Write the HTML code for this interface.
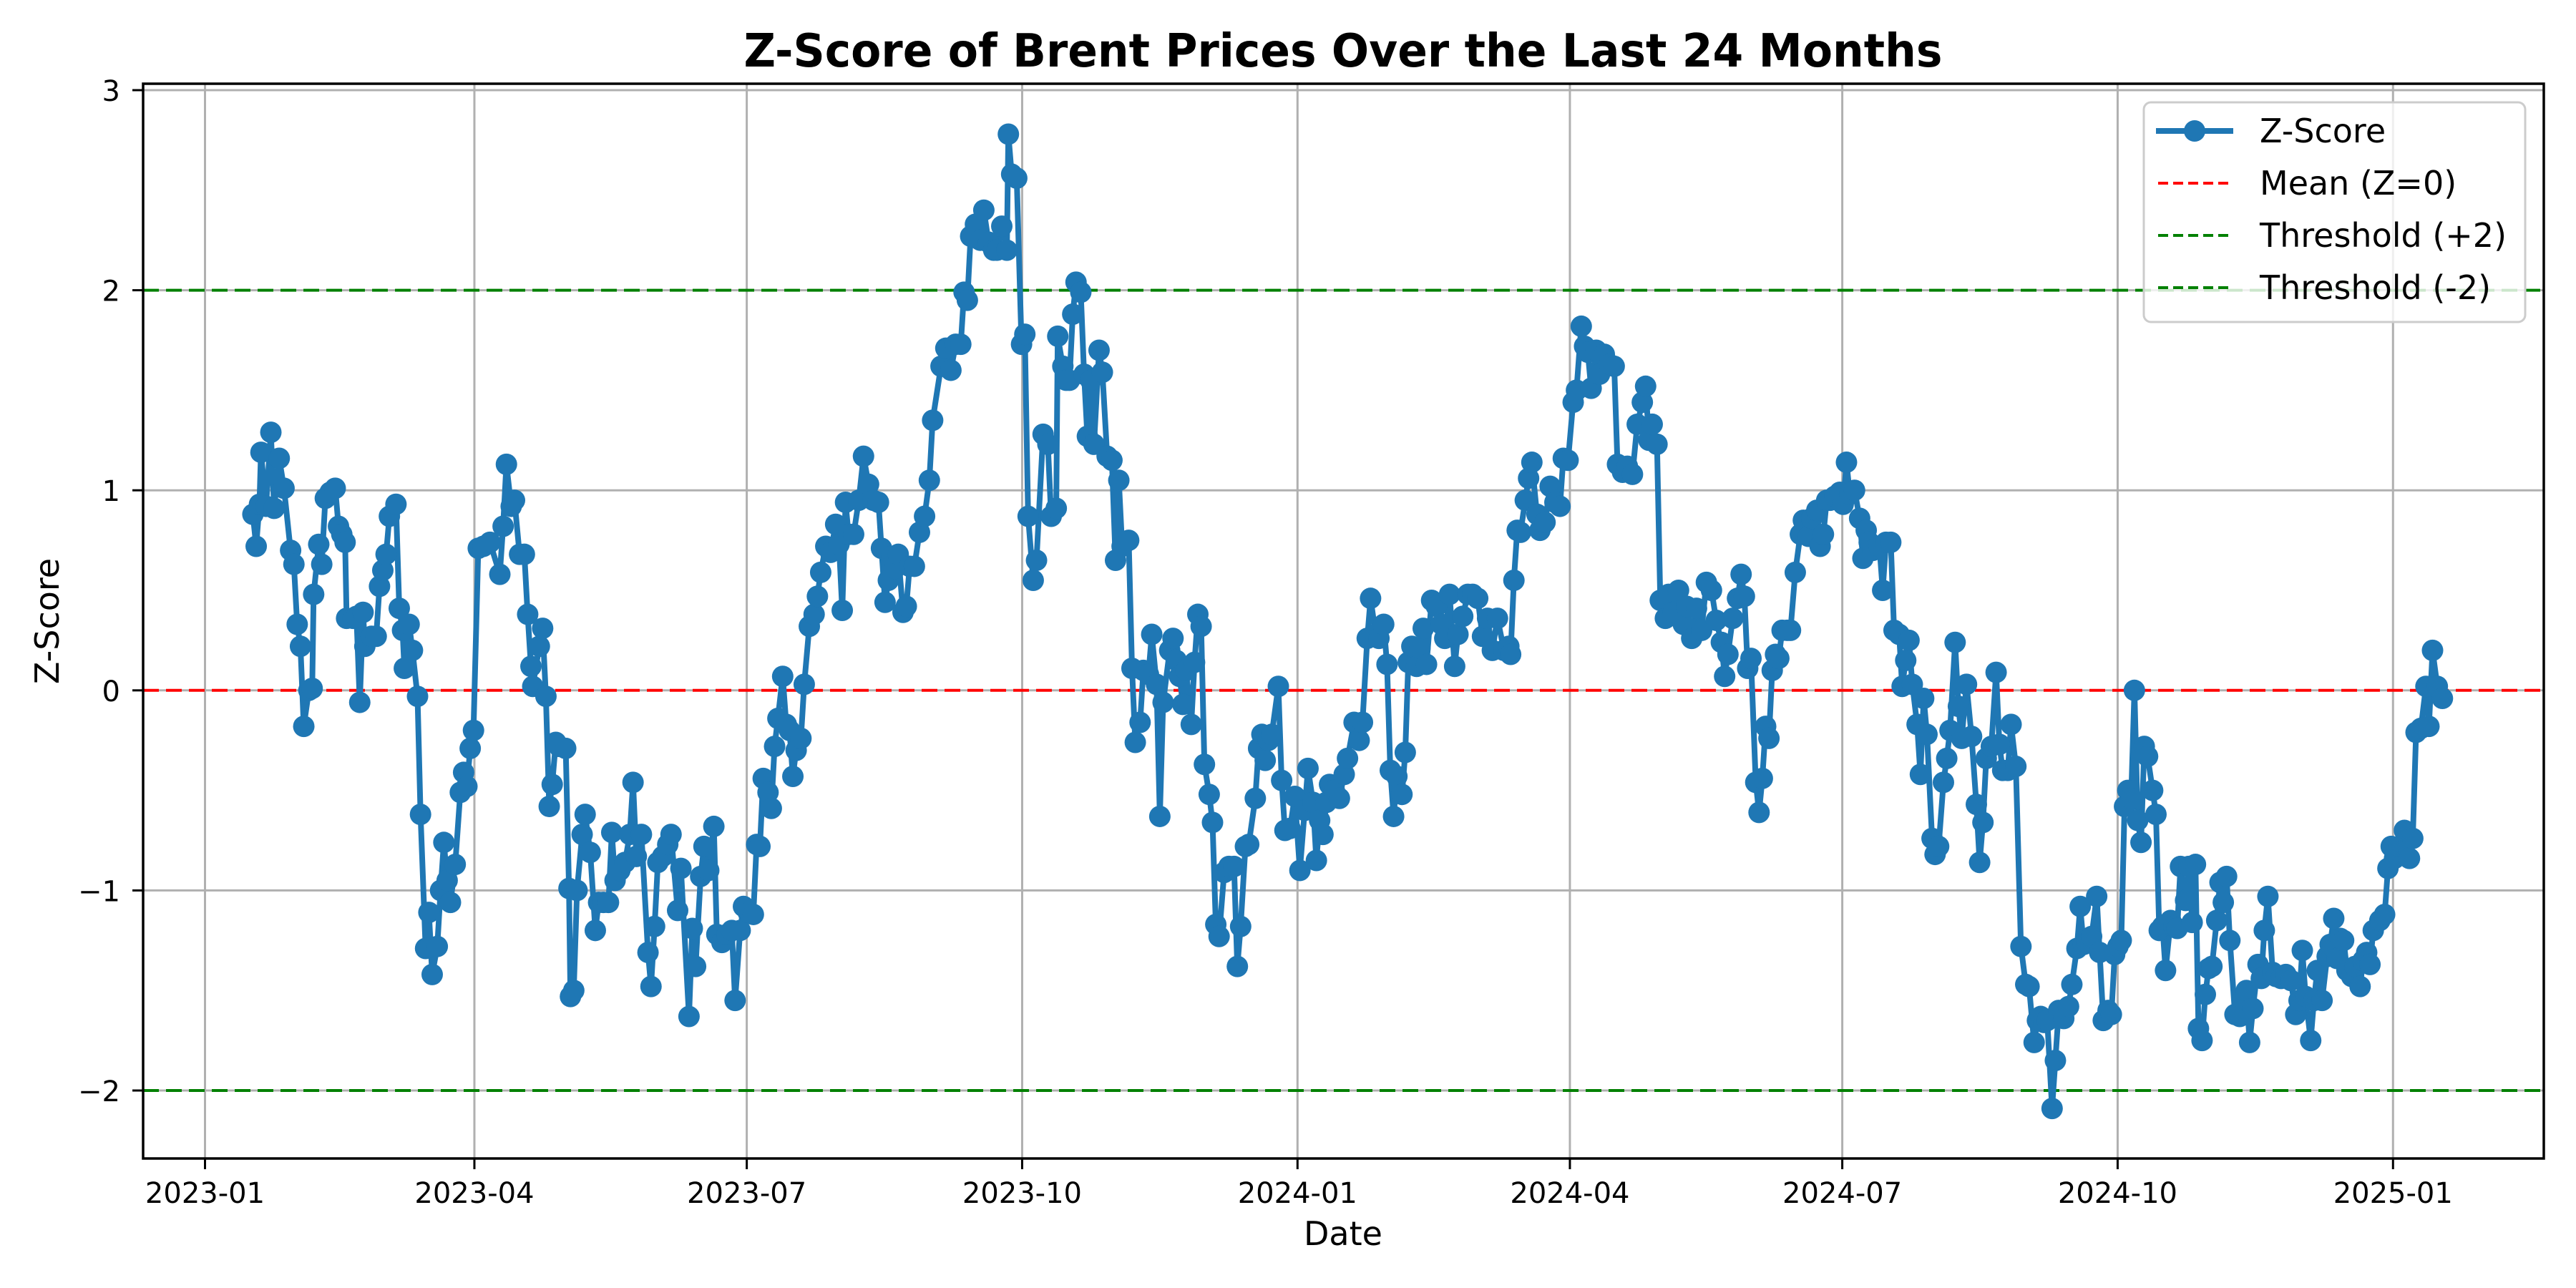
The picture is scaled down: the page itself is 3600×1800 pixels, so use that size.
<!DOCTYPE html>
<html><head><meta charset="utf-8"><style>
html,body{margin:0;padding:0;background:#fff;}
svg{display:block;font-family:"DejaVu Sans","Liberation Sans",sans-serif;}
</style></head><body>
<svg id="chart" width="3600" height="1800" viewBox="0 0 3600 1800" xmlns="http://www.w3.org/2000/svg">
<rect x="0" y="0" width="3600" height="1800" fill="#fff"/>
<g id="grid"></g>
<g id="reflines"></g>
<g id="series"></g>
<rect x="200" y="117" width="3355" height="1502" fill="none" stroke="#000" stroke-width="3.5"/>
<g id="ticks"></g>
<text x="1877" y="93" text-anchor="middle" font-size="64" font-weight="bold" textLength="1675" lengthAdjust="spacingAndGlyphs">Z-Score of Brent Prices Over the Last 24 Months</text>
<text x="1877" y="1740" text-anchor="middle" font-size="46">Date</text>
<text x="0" y="0" transform="translate(82,868) rotate(-90)" text-anchor="middle" font-size="46">Z-Score</text>
<g>
<rect x="2996" y="143" width="533" height="307" rx="10" fill="#fff" fill-opacity="0.8" stroke="#cccccc" stroke-width="3"/>
<g>
<line x1="3013" y1="183" x2="3121" y2="183" stroke="#1f77b4" stroke-width="8"/>
<ellipse cx="3067" cy="183" rx="15" ry="15" fill="#1f77b4"/>
<text x="3158" y="199" font-size="46">Z-Score</text></g>
<g>
<line x1="3016" y1="256" x2="3118" y2="256" stroke="#ff0000" stroke-width="4" stroke-dasharray="14 7"/>
<text x="3158" y="272" font-size="46">Mean (Z=0)</text></g>
<g>
<line x1="3016" y1="329" x2="3118" y2="329" stroke="#008000" stroke-width="4" stroke-dasharray="14 7"/>
<text x="3158" y="345" font-size="46">Threshold (+2)</text></g>
<g>
<line x1="3016" y1="402" x2="3118" y2="402" stroke="#008000" stroke-width="4" stroke-dasharray="14 7"/>
<text x="3158" y="418" font-size="46">Threshold (-2)</text></g>
</g>
</svg>
<script>
// Days since 2023-01-01 for each observation
const dayOffsets = [16,17.1,18.2,18.7,20.4,22,23.1,24.8,26.4,28.6,29.7,30.8,31.9,33,34.7,35.8,36.3,38,39,40.2,41.8,43.5,44.6,45.7,46.8,47.3,49.5,50.6,51.7,52.8,53.4,55.6,57.2,58.3,59.4,60.5,61.6,63.8,64.9,66,66.6,68.2,69.3,71,72,73.7,74.8,75.9,77.6,78.7,79.8,80.9,82,83.6,85.3,86.4,87.5,88.6,89.7,91.3,93,95.2,98.5,99.6,100.7,102.3,103.4,105.1,106.7,107.8,108.9,109.5,111.7,112.8,113.9,115,116,117.2,118.3,120.5,121.6,122.1,123.2,124.3,126,127,128.7,130.4,131.5,133.1,134.8,135.9,137,138.6,140.3,141.9,143,144.1,145.8,148,149,150.2,151.3,152.9,154.6,155.7,157.9,159,161.7,162.8,163.9,165.6,166.7,168.3,170,171,172.7,174.4,176,177.1,178.8,179.9,181.5,183.2,184.3,185.4,186.5,188.1,189.2,190.3,191.4,193,194.2,195.3,196.4,197.5,199.1,200.2,201.9,203.5,204.6,205.7,207.4,209,210.7,211.8,212.9,214,215,216.7,218.4,220,221.7,223.3,225,226,227.2,228.3,229.4,230.5,231.6,233.2,234.3,235.4,237,238.7,240.4,242,243.1,245.9,247.5,249.2,250.8,252.5,253.6,254.7,255.8,257.4,259,260.2,261.8,263.5,264.6,266.2,267.9,268.4,269.5,271.2,272.8,273.9,275,276.7,277.8,280,281.6,282.7,284.4,284.9,286.6,287.7,288.8,289.9,291,292.6,293.7,294.8,295.9,297,298.7,299.8,301.4,303,304.2,305.3,306.4,308.6,309.7,310.8,312.4,313.5,315.2,316.3,317.9,319,320.1,322.3,323.4,324.5,325.6,326.7,327.8,329.5,330.6,331.7,332.8,333.9,335.5,336.6,337.7,338.8,340.5,342.1,343.8,344.9,346,347.6,348.7,350.9,352,353.1,354.2,355.3,356.4,358.6,359.7,360.8,362.5,364.1,365.8,367.4,368.5,370.2,371.3,372.4,373.5,374.6,375.7,377.3,379,380.6,381.7,383.9,385.6,386.7,388.3,389.4,391.1,392.2,393.8,394.9,396,397.1,398.2,399.9,401,402,403.2,404.8,405.9,407,408.1,409.8,411.4,413.1,414.2,415.8,417.5,418.6,420.2,421.9,423.5,425.2,426.8,428.5,430.1,431.8,434,435.6,436.2,437.3,438.4,439.5,441.1,442.2,443.3,445,446,447.7,449.4,451,452.7,453.8,455.4,457.1,458.2,459.8,460.9,462,463.1,464.8,465.9,467.5,469.2,470.8,471.9,473.6,475.2,476.9,478.5,480.2,481.3,482.4,483.5,485.1,486.2,487.9,489,490.6,492.3,493.9,495,496.7,498.3,500,501.6,503.3,504.9,506.6,507.7,508.8,510.4,512,513.2,514.3,515.4,516.5,518.1,519.2,520.3,521.4,522.5,523.6,524.7,525.8,526.9,528.6,529.7,531.3,533,534,535.7,536.8,538.5,539.6,540.7,541.8,542.9,544.5,546.2,547.3,548.4,549.5,551.1,552.8,553.9,555,556,557.2,559.4,560.5,561.6,563.2,564.3,566,567,568.2,569.3,570.4,572,573.1,574.2,575.3,577,578,579.2,580.8,581.9,583,584.7,585.8,586.9,588.5,590.2,591.8,592.9,594,595.1,596.8,598.4,599.5,600.6,602.3,603.4,605,606.7,608.3,609.4,611.1,612.2,613.3,614.4,615.5,617.1,618.2,619.3,621,622.6,623.7,625.4,626.5,627.6,628.7,630.3,632,633,634.2,635.8,636.9,638,639.1,640.2,641.3,642.4,643.5,644.6,645.7,646.8,647.9,649,650.7,651.8,652.9,654,655,656.7,657.8,658.9,660,661.7,662.8,663.9,665,666,667.2,668.3,669.4,670.5,672.1,673.2,674.3,675.4,676.5,678.2,679.8,680.9,682,683.1,684.2,685.9,687,688,689.2,690.8,691.9,693.6,695.2,696.9,698.5,699.6,700.7,701.8,703.5,704.6,705.7,707.3,709,710,711.2,712.3,713.4,714.5,715.6,717.2,718.3,720,721,722.2,723.3,724.4,726.6,728.2,729.3,730.4,731.5,733.2,734.8,736.5,737.6,738.7,740.3,742,743,744.2,745.8,747.5];
const zScores = [0.88,0.72,0.93,1.19,0.92,1.29,0.91,1.16,1.01,0.70,0.63,0.33,0.22,-0.18,0.0,0.01,0.48,0.73,0.63,0.96,0.99,1.01,0.82,0.78,0.74,0.36,0.36,0.37,-0.06,0.39,0.22,0.27,0.27,0.52,0.60,0.68,0.87,0.93,0.41,0.30,0.11,0.33,0.20,-0.03,-0.62,-1.29,-1.11,-1.42,-1.28,-1.00,-0.76,-0.95,-1.06,-0.87,-0.51,-0.41,-0.48,-0.29,-0.20,0.71,0.72,0.74,0.58,0.82,1.13,0.92,0.95,0.68,0.68,0.38,0.12,0.02,0.22,0.31,-0.03,-0.58,-0.47,-0.26,-0.28,-0.29,-0.99,-1.53,-1.50,-1.00,-0.72,-0.62,-0.81,-1.20,-1.06,-1.06,-1.06,-0.71,-0.95,-0.90,-0.86,-0.72,-0.46,-0.83,-0.72,-1.31,-1.48,-1.18,-0.86,-0.83,-0.77,-0.72,-1.10,-0.89,-1.63,-1.19,-1.38,-0.93,-0.78,-0.90,-0.68,-1.22,-1.26,-1.22,-1.20,-1.55,-1.20,-1.08,-1.11,-1.12,-0.77,-0.78,-0.44,-0.51,-0.59,-0.28,-0.14,0.07,-0.17,-0.20,-0.43,-0.30,-0.24,0.03,0.32,0.38,0.47,0.59,0.72,0.69,0.83,0.73,0.40,0.94,0.78,0.78,0.95,1.17,1.03,0.95,0.94,0.71,0.44,0.55,0.67,0.61,0.68,0.39,0.42,0.62,0.62,0.79,0.87,1.05,1.35,1.62,1.71,1.60,1.73,1.73,1.99,1.95,2.27,2.33,2.25,2.40,2.24,2.20,2.20,2.32,2.20,2.78,2.58,2.56,1.73,1.78,0.87,0.55,0.65,1.28,1.23,0.87,0.91,1.77,1.62,1.55,1.55,1.88,2.04,1.99,1.58,1.27,1.55,1.23,1.70,1.59,1.17,1.15,0.65,1.05,0.72,0.75,0.11,-0.26,-0.16,0.10,0.08,0.28,0.03,-0.63,-0.06,0.20,0.26,0.15,0.07,-0.07,0.10,-0.17,0.14,0.38,0.32,-0.37,-0.52,-0.66,-1.17,-1.23,-0.91,-0.88,-0.88,-1.38,-1.18,-0.78,-0.77,-0.54,-0.29,-0.22,-0.35,-0.25,-0.22,0.02,-0.45,-0.70,-0.69,-0.53,-0.90,-0.60,-0.39,-0.56,-0.85,-0.65,-0.72,-0.56,-0.47,-0.50,-0.54,-0.42,-0.34,-0.16,-0.25,-0.16,0.26,0.46,0.28,0.26,0.33,0.13,-0.40,-0.63,-0.43,-0.52,-0.31,0.14,0.22,0.12,0.21,0.31,0.13,0.45,0.42,0.33,0.26,0.48,0.12,0.28,0.37,0.48,0.48,0.46,0.27,0.36,0.20,0.36,0.20,0.22,0.18,0.55,0.80,0.79,0.95,1.06,1.14,0.88,0.80,0.84,1.02,0.94,0.92,1.16,1.15,1.44,1.50,1.82,1.72,1.69,1.51,1.70,1.58,1.68,1.63,1.62,1.13,1.09,1.12,1.08,1.33,1.44,1.52,1.25,1.33,1.23,0.45,0.36,0.48,0.39,0.50,0.33,0.42,0.26,0.41,0.30,0.54,0.50,0.35,0.24,0.07,0.18,0.36,0.46,0.58,0.47,0.11,0.16,-0.46,-0.61,-0.44,-0.18,-0.24,0.10,0.18,0.16,0.30,0.30,0.30,0.59,0.78,0.85,0.77,0.86,0.90,0.72,0.78,0.95,0.95,0.97,0.99,0.93,1.14,0.98,1.00,0.86,0.66,0.80,0.74,0.70,0.72,0.50,0.74,0.74,0.30,0.28,0.02,0.15,0.25,0.03,-0.17,-0.42,-0.04,-0.22,-0.74,-0.82,-0.78,-0.46,-0.34,-0.20,0.24,-0.08,-0.24,0.03,-0.23,-0.57,-0.86,-0.66,-0.34,-0.28,0.09,-0.27,-0.40,-0.40,-0.17,-0.38,-1.28,-1.47,-1.48,-1.76,-1.65,-1.63,-1.66,-1.65,-2.09,-1.85,-1.60,-1.64,-1.58,-1.47,-1.29,-1.08,-1.27,-1.26,-1.23,-1.03,-1.31,-1.65,-1.60,-1.62,-1.32,-1.28,-1.25,-0.58,-0.50,-0.54,0.0,-0.65,-0.76,-0.28,-0.33,-0.50,-0.62,-1.20,-1.18,-1.40,-1.15,-1.18,-1.19,-0.88,-1.05,-0.88,-1.16,-0.87,-1.69,-1.75,-1.52,-1.39,-1.38,-1.15,-0.96,-1.06,-0.93,-1.25,-1.62,-1.63,-1.54,-1.50,-1.76,-1.59,-1.37,-1.44,-1.20,-1.03,-1.41,-1.43,-1.44,-1.42,-1.45,-1.62,-1.55,-1.30,-1.53,-1.75,-1.55,-1.40,-1.55,-1.33,-1.27,-1.14,-1.34,-1.24,-1.25,-1.40,-1.43,-1.38,-1.48,-1.35,-1.31,-1.37,-1.20,-1.15,-1.12,-0.89,-0.78,-0.84,-0.78,-0.70,-0.84,-0.74,-0.21,-0.19,0.02,-0.18,0.20,0.02,-0.04];
const xTickLabels = ["2023-01","2023-04","2023-07","2023-10","2024-01","2024-04","2024-07","2024-10","2025-01"];
const xTickDays = [0,90,181,273,365,456,547,639,731];
const yTickValues = [-2,-1,0,1,2,3];
const refLevels = [0,2,-2];

const NS = "http://www.w3.org/2000/svg";
const PL = 200, PR = 3555, PT = 117, PB = 1619;
function xScale(d){ return 286.5 + d * 4.183; }
function yScale(v){ return 964.8 - v * 279.6; }
function mk(tag, attrs, parent){ const e = document.createElementNS(NS, tag); for (const k in attrs) e.setAttribute(k, attrs[k]); parent.appendChild(e); return e; }

const grid = document.getElementById('grid');
const ticks = document.getElementById('ticks');
xTickDays.forEach((d, i) => {
  const x = xScale(d);
  const g = mk('line', {x1:x, y1:PT, x2:x, y2:PB, stroke:'#b0b0b0', 'stroke-width':3}, grid);
  
  
  const t = mk('line', {x1:x, y1:PB, x2:x, y2:PB+15, stroke:'#000', 'stroke-width':3}, ticks);
  
  
  const lb = mk('text', {x:x, y:PB+62, 'text-anchor':'middle', 'font-size':40}, ticks);
  lb.textContent = xTickLabels[i];
  
  
});
yTickValues.forEach(v => {
  const y = yScale(v);
  const g = mk('line', {x1:PL, y1:y, x2:PR, y2:y, stroke:'#b0b0b0', 'stroke-width':3}, grid);
  
  
  const t = mk('line', {x1:PL-15, y1:y, x2:PL, y2:y, stroke:'#000', 'stroke-width':3}, ticks);
  
  
  const lb = mk('text', {x:PL-32, y:y+15, 'text-anchor':'end', 'font-size':40}, ticks);
  lb.textContent = v < 0 ? '\u2212' + Math.abs(v) : String(v);
  
  
});
const refs = document.getElementById('reflines');
refLevels.forEach(v => {
  const y = yScale(v);
  const l = mk('line', {x1:PL, y1:y, x2:PR, y2:y, stroke: v === 0 ? '#ff0000' : '#008000', 'stroke-width':4, 'stroke-dasharray':'22 10'}, refs);
  
  
});
const series = document.getElementById('series');
let pts = dayOffsets.map((d, i) => xScale(d).toFixed(1) + ',' + yScale(zScores[i]).toFixed(1)).join(' ');
const pl = mk('polyline', {points:pts, fill:'none', stroke:'#1f77b4', 'stroke-width':8, 'stroke-linejoin':'round'}, series);


dayOffsets.forEach((d, i) => {
  const c = mk('circle', {cx:xScale(d), cy:yScale(zScores[i]), r:15, fill:'#1f77b4'}, series);
  
  
});
</script>
</body></html>
